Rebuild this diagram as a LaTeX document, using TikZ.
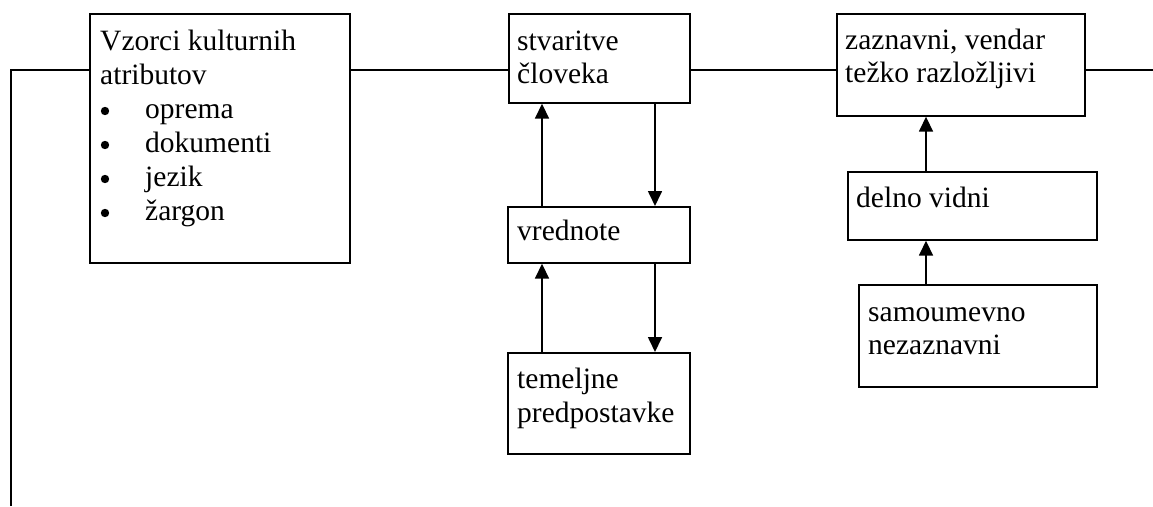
\documentclass[tikz,border=0pt]{standalone}
\usepackage{fontspec}
\setmainfont{Liberation Serif}
\usetikzlibrary{arrows.meta}
\tikzset{
  box/.style={draw, line width=1.7pt, inner sep=0pt, anchor=north west},
  txt/.style={anchor=base west, inner sep=0pt, font=\fontsize{29.5pt}{34pt}\selectfont},
  link/.style={line width=1.7pt},
  arr/.style={line width=1.7pt, -{Triangle[width=14pt,length=15pt]}},
  dot/.style={fill=black, draw=none},
}
\begin{document}
\begin{tikzpicture}[x=1pt, y=-1pt]
\useasboundingbox (0,0) rectangle (1153,506);

% boxes
\node[box, minimum width=260pt, minimum height=249pt] (attr) at (89,13) {};
\node[box, minimum width=181pt, minimum height=89pt]  (stv)  at (508,13) {};
\node[box, minimum width=182pt, minimum height=56pt]  (vred) at (507,206) {};
\node[box, minimum width=182pt, minimum height=101pt] (tem)  at (507,352) {};
\node[box, minimum width=248pt, minimum height=102pt] (zazn) at (836,13) {};
\node[box, minimum width=249pt, minimum height=68pt]  (deln) at (847,171) {};
\node[box, minimum width=238pt, minimum height=102pt] (samo) at (858,284) {};

% texts
\node[txt] (t1a) at (100,50) {Vzorci kulturnih};
\node[txt] (t1b) at (100,84) {atributov};
\node[txt] (t1c) at (145,118) {oprema};
\node[txt] (t1d) at (145,152) {dokumenti};
\node[txt] (t1e) at (145,186) {jezik};
\node[txt] (t1f) at (145,220) {žargon};
\foreach \yb in {118,152,186,220}
  \fill[dot] (105,\yb-7) circle (4.2pt);

\node[txt] (t2a) at (517,50) {stvaritve};
\node[txt] (t2b) at (517,83) {človeka};
\node[txt] (t3)  at (517,240) {vrednote};
\node[txt] (t4a) at (517,388) {temeljne};
\node[txt] (t4b) at (517,422) {predpostavke};

\node[txt] (t5a) at (845,49) {zaznavni, vendar};
\node[txt] (t5b) at (845,82) {težko razložljivi};
\node[txt] (t6)  at (856,207) {delno vidni};
\node[txt] (t7a) at (868,321) {samoumevno};
\node[txt] (t7b) at (868,354) {nezaznavni};

% guide coordinates
\coordinate (cH) at (0,70);
\coordinate (corner) at (11,70);
\coordinate (bottom) at (11,506);
\coordinate (rightend) at (1153,70);
\coordinate (cA) at (542,0);
\coordinate (cB) at (655,0);
\coordinate (cR) at (926,0);

% horizontal chain and left drop
\draw[link] (bottom) -- (corner) -- (attr.west |- cH);
\draw[link] (attr.east |- cH) -- (stv.west |- cH);
\draw[link] (stv.east |- cH) -- (zazn.west |- cH);
\draw[link] (zazn.east |- cH) -- (rightend);

% arrows in the middle column
\draw[arr] (vred.north -| cA) -- (stv.south -| cA);
\draw[arr] (stv.south -| cB) -- (vred.north -| cB);
\draw[arr] (tem.north -| cA) -- (vred.south -| cA);
\draw[arr] (vred.south -| cB) -- (tem.north -| cB);

% arrows in the right column
\draw[arr] (deln.north -| cR) -- (zazn.south -| cR);
\draw[arr] (samo.north -| cR) -- (deln.south -| cR);
\end{tikzpicture}
\end{document}
